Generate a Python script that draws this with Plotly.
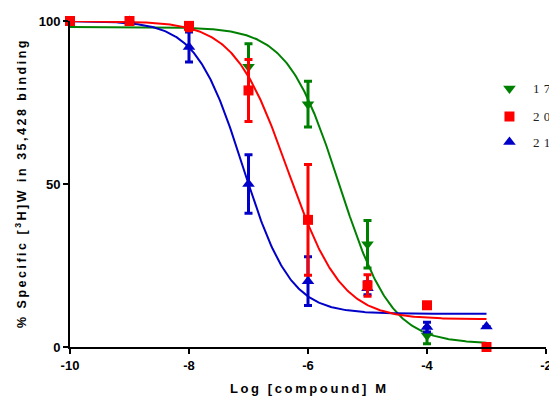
import numpy as np
import plotly.graph_objects as go

# ---- data ----
log_conc = [-10, -9, -8, -7, -6, -5, -4, -3]

# compound 17 (green, down triangles)
x17 = [-7, -6, -5, -4]
y17 = [86.0, 74.5, 31.5, 3.5]
e17 = [7.0, 7.0, 7.3, 2.5]

# compound 20 (red, squares)
x20 = [-10, -9, -8, -7, -6, -5, -4, -3]
y20 = [100.0, 100.0, 98.5, 78.7, 39.0, 18.9, 12.8, 0.0]
e20 = [0.0, 0.0, 1.5, 9.5, 17.0, 3.3, 0.0, 0.0]

# compound 21 (blue, up triangles)
x21 = [-9, -8, -7, -6, -5, -4, -3]
y21 = [100.0, 92.0, 50.0, 20.2, 18.0, 6.1, 6.3]
e21 = [0.0, 4.6, 9.0, 7.5, 2.0, 1.5, 0.0]

# fitted 4-parameter logistic parameters: top, bottom, logIC50, hill
fit17 = [98.2, 1.0, -5.47, 1.0]
fit20 = [100.0, 8.5, -6.34, 0.97]
fit21 = [100.0, 10.2, -7.09, 1.1]

legend_labels = ["1\u00a0\u200a7", "2\u00a0\u200a0", "2\u00a0\u200a1"]
x_ticks = [-10, -8, -6, -4, -2]
y_ticks = [0, 50, 100]

GREEN = "rgb(0,128,0)"
RED = "rgb(255,0,0)"
BLUE = "rgb(0,0,200)"

def logistic(x, p):
    top, bottom, c, h = p
    return bottom + (top - bottom) / (1.0 + 10 ** (h * (x - c)))

xs = np.linspace(log_conc[0], log_conc[-1], 400)

fig = go.Figure()
for p, col in [(fit17, GREEN), (fit21, BLUE), (fit20, RED)]:
    fig.add_trace(go.Scatter(x=xs, y=logistic(xs, p), mode="lines",
                             line=dict(color=col, width=2), showlegend=False,
                             hoverinfo="skip", cliponaxis=False))

def pts(x, y, e, col, sym, size):
    return go.Scatter(x=x, y=y, mode="markers",
                      marker=dict(color=col, symbol=sym, size=size, line=dict(width=0)),
                      error_y=dict(type="data", array=e, visible=True, color=col,
                                   thickness=3, width=4),
                      showlegend=False, cliponaxis=False)

fig.add_trace(pts(x17, y17, e17, GREEN, "triangle-down", 11))
fig.add_trace(pts(x21, y21, e21, BLUE, "triangle-up", 11))
fig.add_trace(pts(x20, y20, e20, RED, "square", 10))

# page body has an 8px margin: the figure is offset by (8, 8) in the window
OFF = 8
WIN_W, WIN_H = 557, 396
W, H = WIN_W - OFF, WIN_H - OFF
# plot area in window pixels: x 70..552, y 21..347
PX0, PX1, PY0, PY1 = 70, 552, 21, 347
L, R, T, B = PX0 - OFF, WIN_W - PX1, PY0 - OFF, WIN_H - PY1
pw, ph = PX1 - PX0, PY1 - PY0
def px_x(px):
    return (px - PX0) / pw
def px_y(py):
    return (PY1 - py) / ph

leg_y = [px_y(88.5), px_y(116.5), px_y(142)]
leg_sym = [("triangle-down", GREEN, 11), ("square", RED, 10), ("triangle-up", BLUE, 11)]
for (sym, col, sz), yy in zip(leg_sym, leg_y):
    fig.add_trace(go.Scatter(x=[px_x(515)], y=[yy], mode="markers", xaxis="x2", yaxis="y2",
                             marker=dict(color=col, symbol=sym, size=sz),
                             showlegend=False, cliponaxis=False, hoverinfo="skip"))

annotations = []
for lab, yy in zip(legend_labels, leg_y):
    annotations.append(dict(text=lab, x=px_x(537), y=yy, xref="paper", yref="paper",
                            xanchor="left", yanchor="middle", showarrow=False,
                            font=dict(family="Liberation Serif", size=13, color="#222")))

ts = "\u2009"
def spaced(s):
    return ts.join(list(s))

xtitle = spaced("Log [compound] M")
ytitle = (spaced("% Specific [") + ts + "<sup>3</sup>" + ts + spaced("H]W in 35,428 binding"))
annotations.append(dict(text="<b>" + xtitle + "</b>", x=0.5, y=0, xref="paper", yref="paper",
                        xanchor="center", yanchor="middle", yshift=-(388 - PY1),
                        showarrow=False, font=dict(family="Liberation Sans", size=13, color="black")))
annotations.append(dict(text="<b>" + ytitle + "</b>", x=0, y=0.5, xref="paper", yref="paper",
                        xanchor="center", yanchor="middle", xshift=21 - PX0, textangle=-90,
                        showarrow=False, font=dict(family="Liberation Sans", size=12.5, color="black")))

fig.update_layout(
    width=W, height=H,
    margin=dict(l=L, r=R, t=T, b=B),
    paper_bgcolor="white", plot_bgcolor="white",
    showlegend=False,
    annotations=annotations,
    xaxis=dict(range=[-10, -2], tickvals=x_ticks, ticktext=[str(v) for v in x_ticks],
               showline=True, linecolor="black", linewidth=2, ticks="outside",
               ticklen=5, tickwidth=2, tickcolor="black", showgrid=False, zeroline=False,
               ticklabeloverflow="allow",
               tickfont=dict(family="Liberation Sans", size=13, color="black", weight="bold")),
    yaxis=dict(range=[0, 100], tickvals=y_ticks, ticktext=[str(v) for v in y_ticks],
               showline=True, linecolor="black", linewidth=2, ticks="outside",
               ticklen=5, tickwidth=2, tickcolor="black", showgrid=False, zeroline=False,
               tickfont=dict(family="Liberation Sans", size=13, color="black", weight="bold")),
    xaxis2=dict(overlaying="x", range=[0, 1], visible=False, anchor="y2"),
    yaxis2=dict(overlaying="y", range=[0, 1], visible=False, anchor="x2"),
)

fig.write_html("out.html")
